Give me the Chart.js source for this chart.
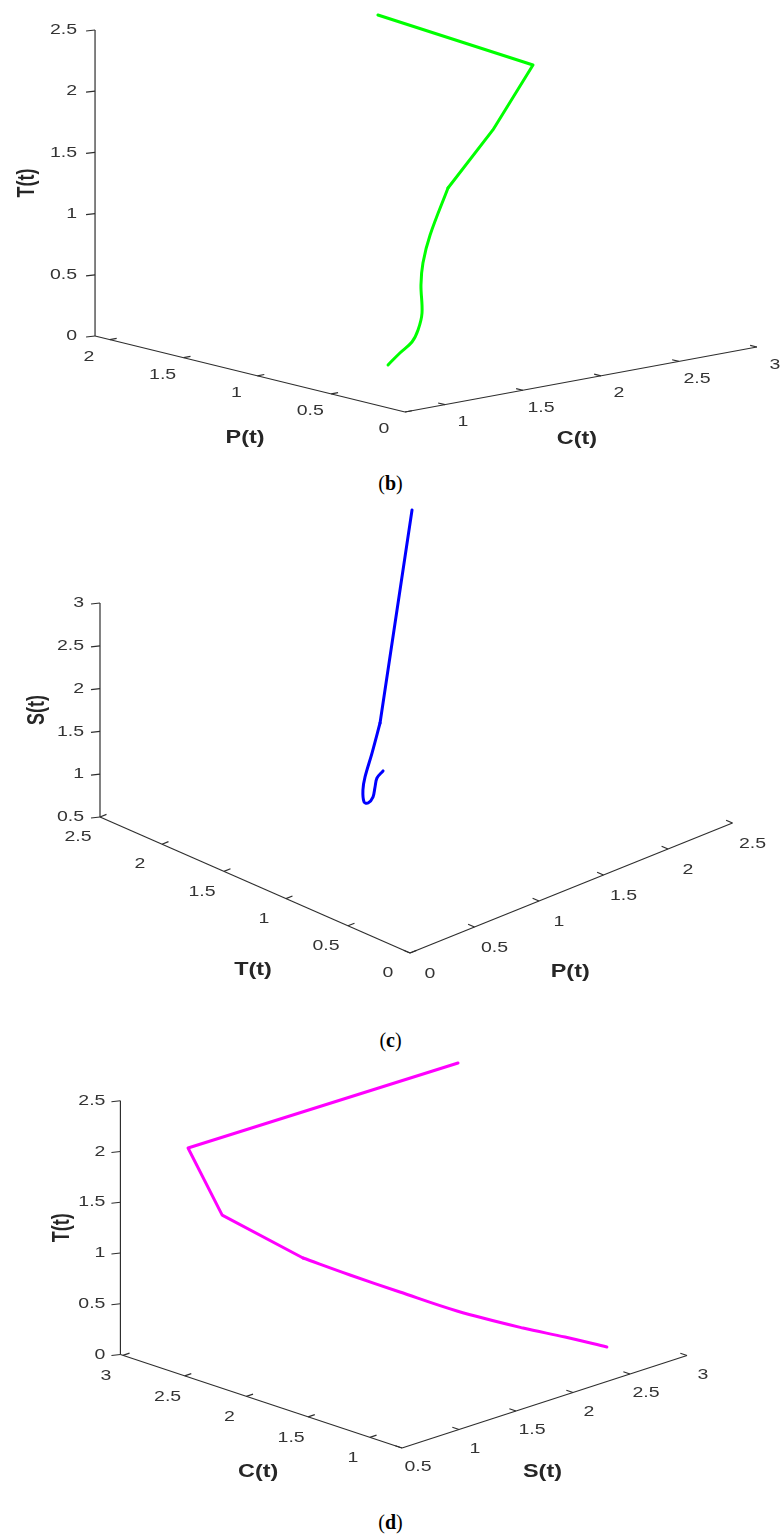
<!DOCTYPE html>
<html>
<head>
<meta charset="utf-8">
<title>3D phase portraits</title>
<script src="https://cdn.jsdelivr.net/npm/chart.js@4.4.0/dist/chart.umd.min.js"></script>
<style>
  html, body { margin: 0; padding: 0; background: #fff; }
  #page { position: relative; width: 781px; height: 1539px; overflow: hidden; }
  canvas { position: absolute; left: 0; }
  .cap {
    position: absolute; left: 0; width: 781px; text-align: center;
    font-family: 'Liberation Serif', 'DejaVu Serif', serif; font-size: 20px;
    line-height: 24px; color: #000;
  }
</style>
</head>
<body>
<div id="page">
  <canvas id="chartB" width="781" height="470" style="top:0px;width:781px;height:470px"></canvas>
  <div class="cap" style="top:471px">(<b>b</b>)</div>
  <canvas id="chartC" width="781" height="520" style="top:495px;width:781px;height:520px"></canvas>
  <div class="cap" style="top:1028px">(<b>c</b>)</div>
  <canvas id="chartD" width="781" height="450" style="top:1050px;width:781px;height:450px"></canvas>
  <div class="cap" style="top:1510px">(<b>d</b>)</div>
</div>
<script>
// ---- data ----
// (b) trajectory in P-C-T space
var bC = [2.002, 2.645, 2.351, 2.051, 1.869, 1.791, 1.748, 1.680, 1.576, 1.466, 1.350, 1.201];
var bP = [1.513, 1.142, 1.103, 1.090, 1.019, 0.985, 0.953, 0.874, 0.791, 0.716, 0.675, 0.598];
var bT = [2.50, 2.05, 1.60, 1.20, 0.88, 0.68, 0.52, 0.33, 0.24, 0.19, 0.14, 0.10];
// (c) trajectory in T-P-S space
var cP = [2.416, 1.051, 0.860, 0.730, 0.680, 0.605, 0.588, 0.578, 0.546, 0.513, 0.512];
var cT = [2.497, 1.335, 1.201, 1.122, 1.087, 1.000, 0.950, 0.900, 0.850, 0.800, 0.750];
var cS = [2.620, 1.700, 1.550, 1.400, 1.300, 1.261, 1.291, 1.399, 1.568, 1.724, 1.839];
// (d) trajectory in C-S-T space
var dS = [2.638, 0.779, 0.916, 1.311, 1.564, 1.788, 2.005, 2.233, 2.367, 2.487];
var dC = [2.260, 2.730, 2.580, 2.290, 2.143, 1.946, 1.684, 1.360, 1.143, 0.915];
var dT = [2.40, 2.05, 1.40, 0.95, 0.75, 0.58, 0.42, 0.30, 0.25, 0.20];

// tick labels
var bCTicks = [1, 1.5, 2, 2.5, 3];
var bPTicks = [0, 0.5, 1, 1.5, 2];
var bTTicks = [0, 0.5, 1, 1.5, 2, 2.5];
var cPTicks = [0, 0.5, 1, 1.5, 2, 2.5];
var cTTicks = [0, 0.5, 1, 1.5, 2, 2.5];
var cSTicks = [0.5, 1, 1.5, 2, 2.5, 3];
var dSTicks = [0.5, 1, 1.5, 2, 2.5, 3];
var dCTicks = [1, 1.5, 2, 2.5, 3];
var dTTicks = [0, 0.5, 1, 1.5, 2, 2.5];

// ---- views: front corner + screen direction of one unit along each axis ----
// axes[0] runs to the right, axes[1] to the left, axes[2] is vertical
// smoothFrom: index where the ode solution becomes densely sampled (curved part)
var panels = [
  {
    id: 'chartB', color: '#00ff00', smoothFrom: 3, origin: [405, 412],
    axes: [
      { title: 'C(t)', min: 0.744, max: 3, dir: [156, -28.8], ticks: bCTicks, labelOff: [18, 17.5], titleOff: [-4, 60] },
      { title: 'P(t)', min: 0, max: 2.1, dir: [-147.6, -36.2], ticks: bPTicks, labelOff: [-21, 17], titleOff: [-5, 64] },
      { title: 'T(t)', min: 0, max: 2.5, dir: [0, -122.4], ticks: bTTicks, gap: 18, titleX: 28 }
    ],
    values: [bC, bP, bT]
  },
  {
    id: 'chartC', color: '#0000ff', smoothFrom: 1, origin: [410, 458],
    axes: [
      { title: 'P(t)', min: 0, max: 2.5, dir: [129, -52], ticks: cPTicks, labelOff: [20, 21], titleOff: [-1, 84] },
      { title: 'T(t)', min: 0, max: 2.5, dir: [-124, -54.4], ticks: cTTicks, labelOff: [-22, 20], titleOff: [-2, 85] },
      { title: 'S(t)', min: 0.5, max: 3, dir: [0, -85.6], ticks: cSTicks, gap: 16, titleX: 38 }
    ],
    values: [cP, cT, cS]
  },
  {
    id: 'chartD', color: '#ff00ff', smoothFrom: 3, origin: [402, 398],
    axes: [
      { title: 'S(t)', min: 0.5, max: 3, dir: [114, -37], ticks: dSTicks, labelOff: [16, 19], titleOff: [-2, 70] },
      { title: 'C(t)', min: 0.74, max: 3.02, dir: [-123.5, -41], ticks: dCTicks, labelOff: [-17, 21], titleOff: [-3, 71] },
      { title: 'T(t)', min: 0, max: 2.5, dir: [0, -101.5], ticks: dTTicks, gap: 15, titleX: 63 }
    ],
    values: [dS, dC, dT]
  }
];

var axisColor = '#2e2e2e';
var textColor = '#333333';
var tickFont = '15px "Liberation Sans", Arial, sans-serif';
var titleFont = 'bold 18px "Liberation Sans", Arial, sans-serif';
var stretch = 1.3; // the exported figure is wider than tall

function project(pn, a, b, c) {
  var ax = pn.axes;
  var da = a - ax[0].min, db = b - ax[1].min, dc = c - ax[2].min;
  return {
    x: pn.origin[0] + da * ax[0].dir[0] + db * ax[1].dir[0] + dc * ax[2].dir[0],
    y: pn.origin[1] + da * ax[0].dir[1] + db * ax[1].dir[1] + dc * ax[2].dir[1]
  };
}

function unit(d) {
  var n = Math.sqrt(d[0] * d[0] + d[1] * d[1]);
  return [d[0] / n, d[1] / n];
}

function text(ctx, s, x, y, align, rotate) {
  ctx.save();
  ctx.translate(x, y);
  ctx.scale(stretch, 1);
  if (rotate) ctx.rotate(-Math.PI / 2);
  ctx.textAlign = align;
  ctx.textBaseline = 'middle';
  ctx.fillText(s, 0, 0);
  ctx.restore();
}

function drawAxes(chart, pn) {
  var ctx = chart.ctx;
  var sx = chart.scales.x, sy = chart.scales.y;
  var r = pn.axes[0], l = pn.axes[1], v = pn.axes[2];
  function at(a, b, c) {
    var p = project(pn, a, b, c);
    return [sx.getPixelForValue(p.x), sy.getPixelForValue(p.y)];
  }
  function line(p, q) {
    ctx.beginPath();
    ctx.moveTo(p[0], p[1]);
    ctx.lineTo(q[0], q[1]);
    ctx.stroke();
  }
  ctx.save();
  ctx.strokeStyle = axisColor;
  ctx.lineWidth = 1.2;

  // axis lines
  line(at(r.min, l.min, v.min), at(r.max, l.min, v.min));
  line(at(r.min, l.min, v.min), at(r.min, l.max, v.min));
  line(at(r.min, l.max, v.min), at(r.min, l.max, v.max));

  ctx.fillStyle = textColor;
  ctx.font = tickFont;

  // ticks on the floor axes point along the other floor axis
  var ul = unit(l.dir), ur = unit(r.dir);
  r.ticks.forEach(function (t) {
    var p = at(t, l.min, v.min);
    line(p, [p[0] + ul[0] * 7, p[1] + ul[1] * 7]);
    text(ctx, String(t), p[0] + r.labelOff[0], p[1] + r.labelOff[1], 'center');
  });
  l.ticks.forEach(function (t) {
    var p = at(r.min, t, v.min);
    line(p, [p[0] + ur[0] * 7, p[1] + ur[1] * 7]);
    text(ctx, String(t), p[0] + l.labelOff[0], p[1] + l.labelOff[1], 'center');
  });
  // vertical axis
  v.ticks.forEach(function (t) {
    var p = at(r.min, l.max, t);
    line(p, [p[0] - 9, p[1] + 1]);
    text(ctx, String(t), p[0] - v.gap, p[1], 'right');
  });

  // axis titles
  ctx.font = titleFont;
  ctx.fillStyle = '#262626';
  var m = at((r.min + r.max) / 2, l.min, v.min);
  text(ctx, r.title, m[0] + r.titleOff[0], m[1] + r.titleOff[1], 'center');
  m = at(r.min, (l.min + l.max) / 2, v.min);
  text(ctx, l.title, m[0] + l.titleOff[0], m[1] + l.titleOff[1], 'center');
  m = at(r.min, l.max, (v.min + v.max) / 2);
  text(ctx, v.title, v.titleX, m[1], 'center', true);
  ctx.restore();
}

function makePanel(pn) {
  var canvas = document.getElementById(pn.id);
  var pts = pn.values[0].map(function (a, i) {
    return project(pn, a, pn.values[1][i], pn.values[2][i]);
  });
  var common = {
    showLine: true,
    borderColor: pn.color,
    backgroundColor: pn.color,
    borderWidth: 3,
    pointRadius: 0,
    pointHoverRadius: 0,
    borderCapStyle: 'round',
    borderJoinStyle: 'round',
    clip: false
  };
  new Chart(canvas.getContext('2d'), {
    type: 'scatter',
    data: {
      datasets: [
        Object.assign({ data: pts.slice(0, pn.smoothFrom + 1), tension: 0 }, common),
        Object.assign({ data: pts.slice(pn.smoothFrom), tension: 0.35 }, common)
      ]
    },
    options: {
      responsive: false,
      animation: false,
      events: [],
      layout: { padding: 0 },
      plugins: { legend: { display: false }, tooltip: { enabled: false } },
      scales: {
        x: { type: 'linear', min: 0, max: canvas.width, display: false },
        y: { type: 'linear', min: 0, max: canvas.height, reverse: true, display: false }
      }
    },
    plugins: [{
      id: 'axes3d',
      beforeDatasetsDraw: function (chart) { drawAxes(chart, pn); }
    }]
  });
}

panels.forEach(makePanel);
</script>
</body>
</html>
